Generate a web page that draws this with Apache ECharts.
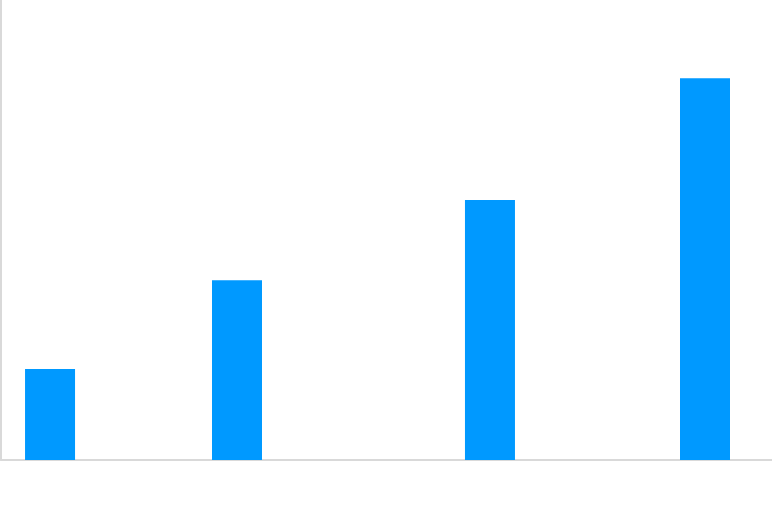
<!DOCTYPE html>
<html>
<head>
<meta charset="utf-8">
<script src="https://cdn.jsdelivr.net/npm/echarts@6/dist/echarts.min.js"></script>
<style>html,body{margin:0;padding:0;background:#fff}#c{width:772px;height:505px}</style>
</head>
<body>
<div id="c"></div>
<script>
const xPositions = [6.36, 30.61, 63.42, 91.31];
const values = [19.8, 39.1, 56.5, 83.0];

const chart = echarts.init(document.getElementById('c'), null, {renderer: 'canvas'});
chart.setOption({
  animation: false,
  backgroundColor: '#ffffff',
  grid: {left: 1, right: 0, top: 0, bottom: 45, containLabel: false},
  xAxis: {
    type: 'value', min: 0, max: 100,
    axisLine: {show: true, onZero: false, lineStyle: {color: '#d9d9d9', width: 2}},
    axisTick: {show: false}, axisLabel: {show: false}, splitLine: {show: false}
  },
  yAxis: {
    type: 'value', min: 0, max: 100,
    axisLine: {show: true, onZero: false, lineStyle: {color: '#d9d9d9', width: 2}},
    axisTick: {show: false}, axisLabel: {show: false}, splitLine: {show: false}
  },
  series: [{
    type: 'bar',
    barWidth: 50,
    itemStyle: {color: '#0099ff'},
    data: xPositions.map((x, i) => [x, values[i]])
  }]
});
</script>
</body>
</html>
